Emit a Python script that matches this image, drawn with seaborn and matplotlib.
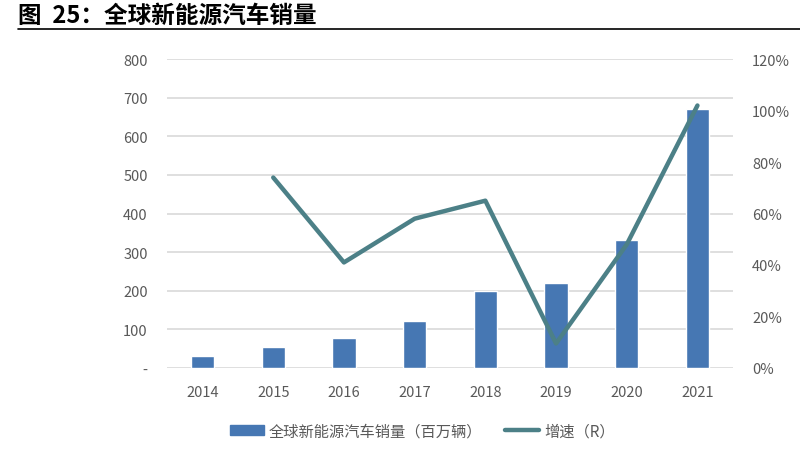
import numpy as np
import pandas as pd
import matplotlib
matplotlib.use("Agg")
import matplotlib.pyplot as plt
import seaborn as sns
from matplotlib.patches import Patch
from matplotlib.lines import Line2D

years = ["2014", "2015", "2016", "2017", "2018", "2019", "2020", "2021"]
sales = [32, 54, 78, 121, 200, 221, 331, 670]
growth_years = ["2015", "2016", "2017", "2018", "2019", "2020", "2021"]
growth = [74, 41, 58, 65, 9.5, 48, 102]
left_ticks = [0, 100, 200, 300, 400, 500, 600, 700, 800]
left_labels = ["-", "100", "200", "300", "400", "500", "600", "700", "800"]
right_ticks = [0, 20, 40, 60, 80, 100, 120]
right_labels = ["0%", "20%", "40%", "60%", "80%", "100%", "120%"]

sns.set_theme(style="white")
plt.rcParams['font.family'] = ['Noto Sans CJK SC', 'DejaVu Sans']

BAR = "#4677B3"
LINE = "#4C8087"
GRID = "#D9D9D9"
TXT = "#595959"

fig = plt.figure(figsize=(8, 4.56), dpi=100)
ax = fig.add_axes([0.209, 0.191, 0.707, 0.677])

df = pd.DataFrame({"year": years, "sales": sales})
sns.barplot(data=df, x="year", y="sales", color=BAR, width=0.33, ax=ax,
            saturation=1, zorder=3)
ax.set_ylim(0, 800)
ax.set_xlim(-0.5, len(years) - 0.5)
ax.set_yticks(left_ticks)
ax.set_yticklabels(left_labels)
ax.yaxis.grid(True, color=GRID, linewidth=1.2, zorder=0)
ax.set_axisbelow(True)
ax.set_xlabel("")
ax.set_ylabel("")
for s in ax.spines.values():
    s.set_visible(False)
ax.tick_params(axis="both", length=0, labelsize=10.5, labelcolor=TXT)
ax.tick_params(axis="x", pad=12)
ax.tick_params(axis="y", pad=14)

ax2 = ax.twinx()
pos = [years.index(y) for y in growth_years]
sns.lineplot(x=pos, y=growth, color=LINE, linewidth=3.2, ax=ax2, zorder=4)
ax2.set_ylim(0, 120)
ax2.set_xlim(-0.5, len(years) - 0.5)
ax2.set_yticks(right_ticks)
ax2.set_yticklabels(right_labels)
ax2.set_ylabel("")
ax2.grid(False)
for s in ax2.spines.values():
    s.set_visible(False)
ax2.tick_params(axis="y", length=0, labelsize=10.5, labelcolor=TXT, pad=14)

# title and rule
fig.text(0.022, 0.966, "图  25：全球新能源汽车销量", fontsize=17, fontweight="bold",
         color="#000000", va="center", ha="left")
fig.add_artist(Line2D([0.022, 1.0], [0.934, 0.934], color="#000000", linewidth=1.2,
                      transform=fig.transFigure))

handles = [Patch(facecolor=BAR, edgecolor=BAR),
           Line2D([0], [0], color=LINE, linewidth=3.2)]
labels = ["全球新能源汽车销量（百万辆）", "增速（R）"]
leg = fig.legend(handles, labels, loc="center left", bbox_to_anchor=(0.2875, 0.053),
                 ncol=2, frameon=False, fontsize=11, handlelength=2.2,
                 columnspacing=1.5, handletextpad=0.35, borderpad=0,
                 borderaxespad=0)
for t in leg.get_texts():
    t.set_color(TXT)

fig.savefig("out.png", dpi=100)
